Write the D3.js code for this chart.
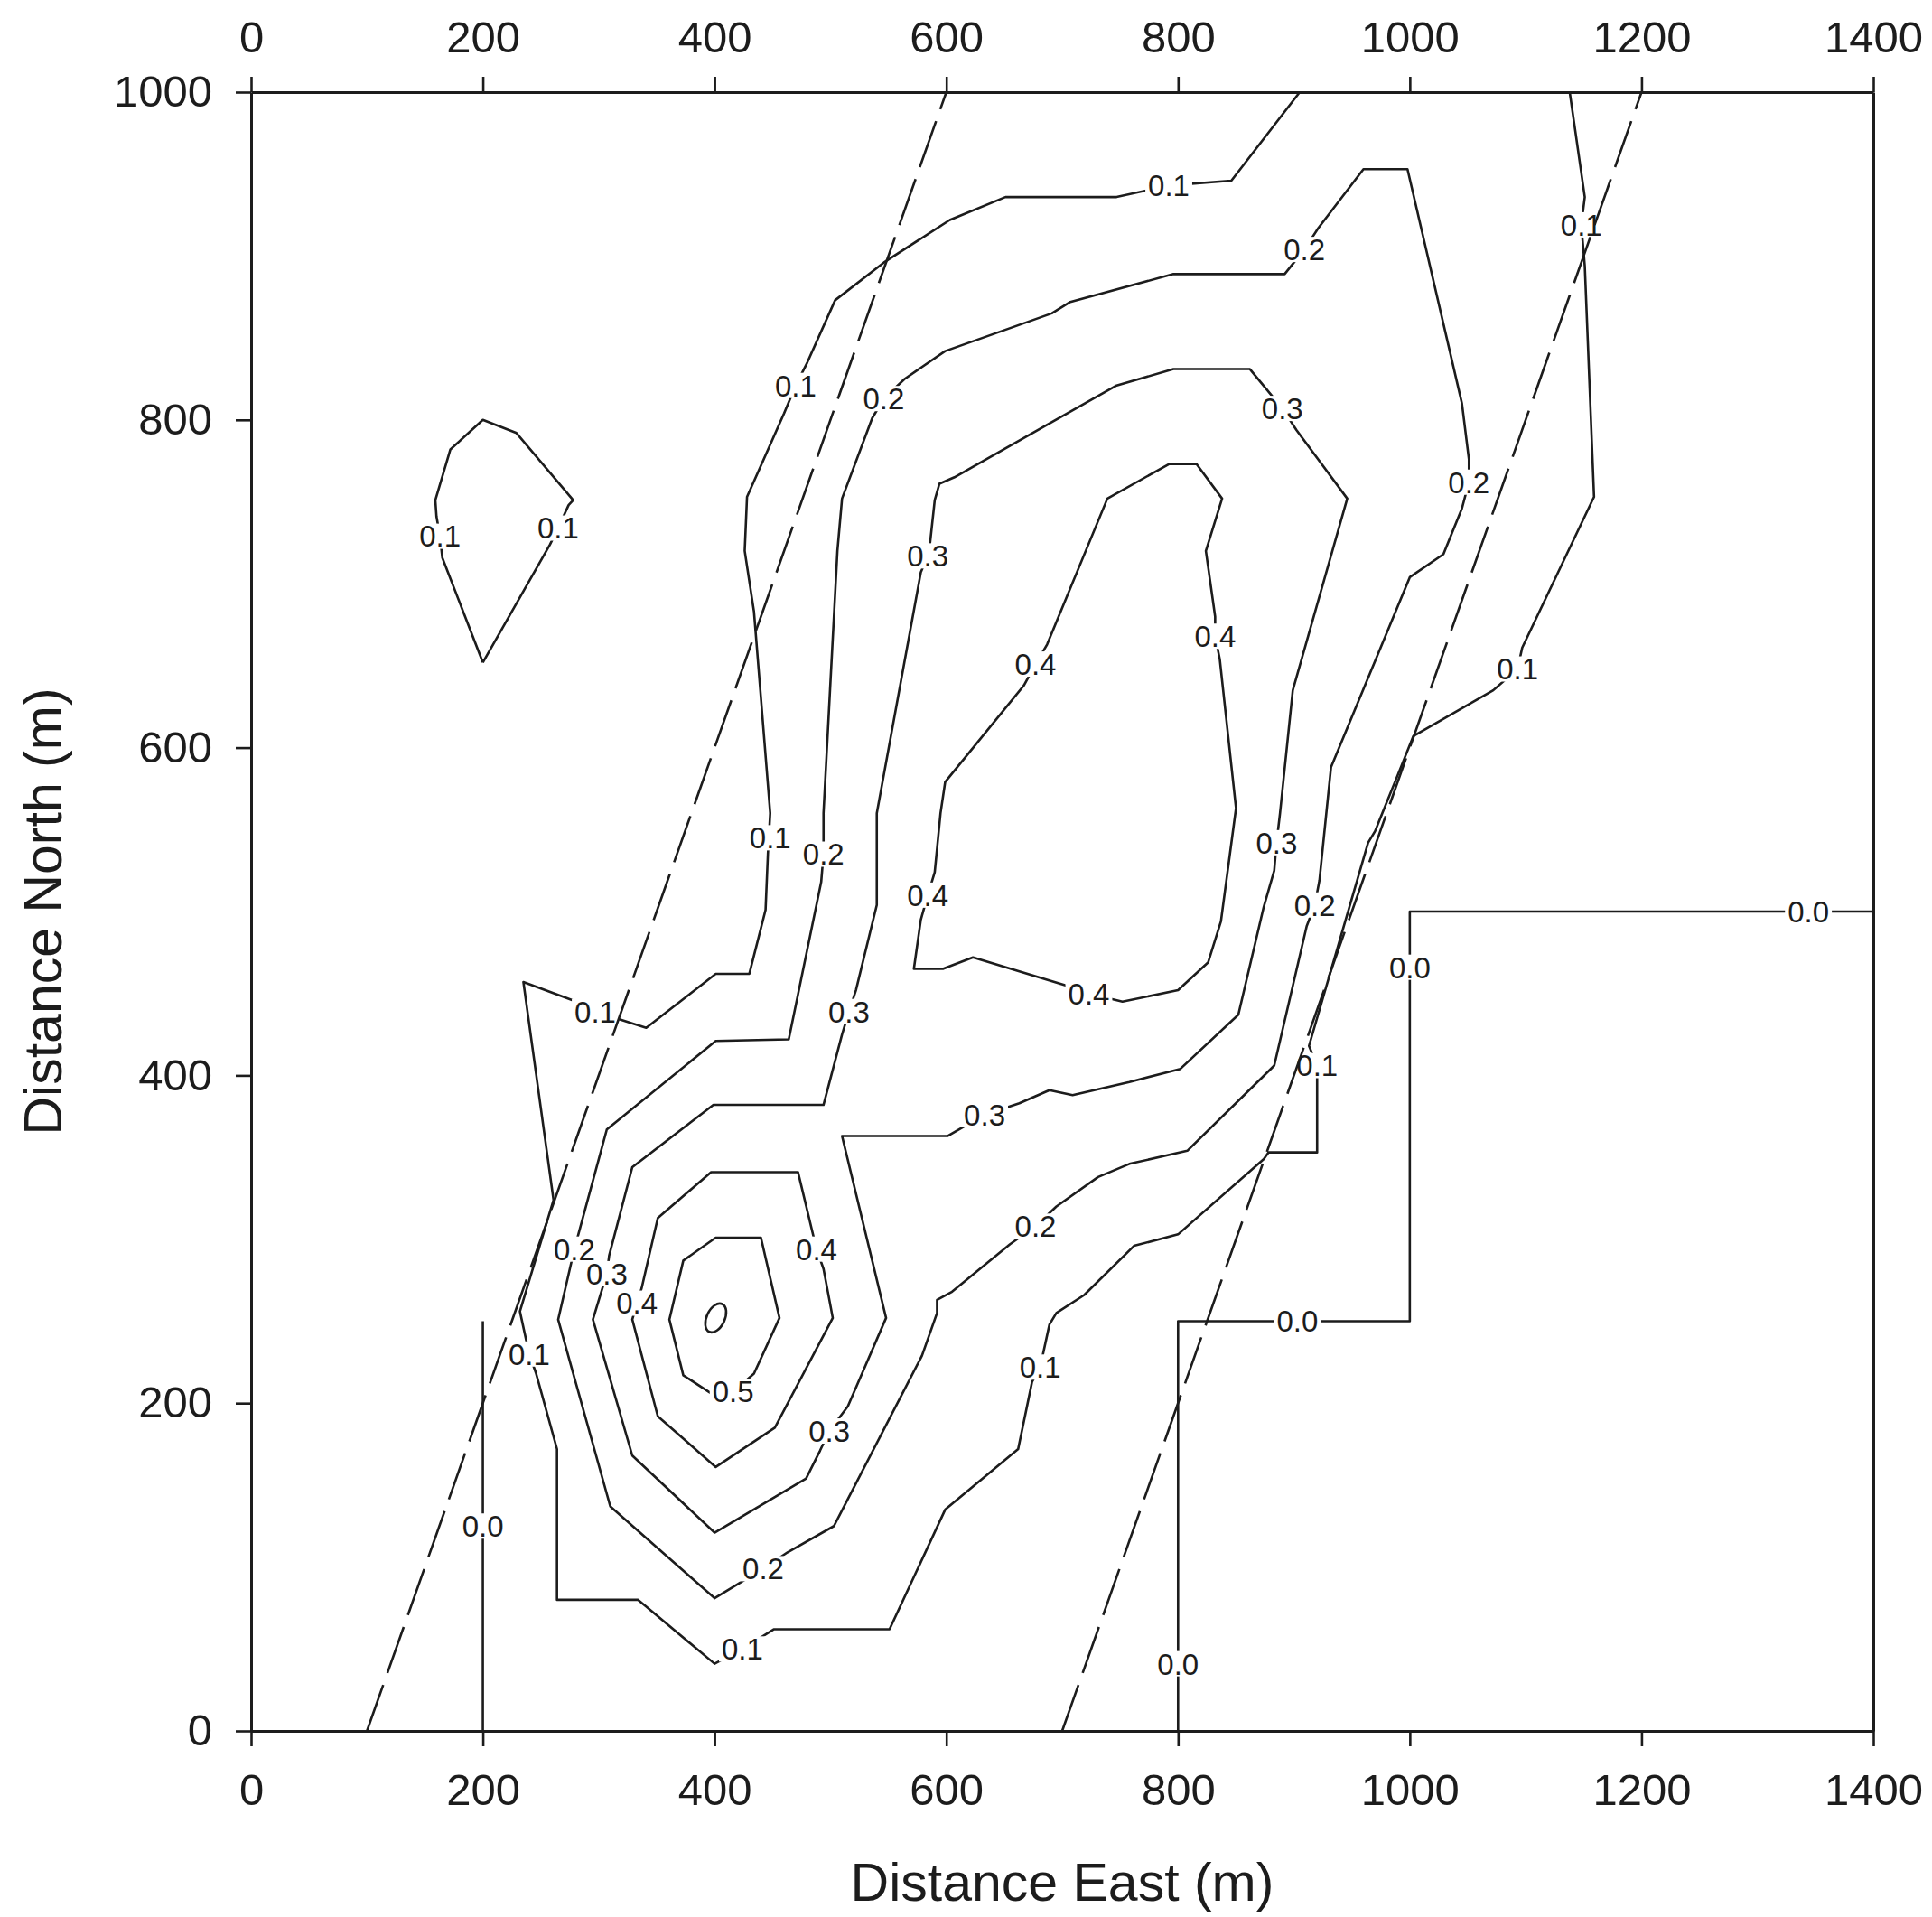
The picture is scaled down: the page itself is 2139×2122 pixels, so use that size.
<!DOCTYPE html>
<html>
<head>
<meta charset="utf-8">
<script src="https://cdn.jsdelivr.net/npm/d3@7"></script>
<style>
  body { margin: 0; background: #fff; }
  svg { display: block; font-family: 'Liberation Sans', Arial, sans-serif; }
</style>
</head>
<body>
<div id="chart"></div>
<script>
// axis ticks (m)
const xTicks = [0, 200, 400, 600, 800, 1000, 1200, 1400];
const yTicks = [0, 200, 400, 600, 800, 1000];

// contour lines as [east, north] points in metres
const contour00West = [[200, 0], [200, 250]];
const contour00East = [[800, 0], [800, 250], [1000, 250], [1000, 500], [1400, 500]];

const contour01Main = [
  [905, 1000], [846, 946], [792, 943], [747, 936], [651, 936], [603, 922], [546, 896],
  [504, 873], [480, 835], [470, 821], [460, 804], [428, 753], [426, 720], [434, 683],
  [448, 560], [446, 535], [444, 501], [430, 462], [401, 462], [341, 429], [297, 439],
  [277, 446], [235, 457], [261, 324], [232, 256], [240, 230], [246, 218], [264, 172],
  [264, 80], [334, 80], [400, 41], [424, 50], [451, 62], [551, 62], [599, 135],
  [662, 172], [674, 213], [681, 222], [689, 248], [695, 255], [719, 266], [762, 296],
  [800, 303], [874, 349], [878, 353], [920, 353], [920, 393], [920, 406], [913, 418],
  [964, 542], [970, 549], [990, 584], [1003, 607], [1072, 635], [1093, 648], [1097, 661],
  [1159, 753], [1151, 894], [1148, 919], [1151, 936], [1138, 1000]
];
const contour01West = [
  [200, 652], [165, 716], [163, 729], [160, 741], [159, 751], [172, 782], [200, 800],
  [229, 792], [278, 751], [274, 748], [265, 734], [258, 724], [200, 652]
];
const contour02 = [
  [909, 904], [921, 917], [960, 953], [998, 953], [1045, 810], [1051, 776], [1051, 762],
  [1045, 746], [1029, 718], [1000, 704], [932, 588], [922, 519], [918, 504], [911, 491],
  [883, 406], [808, 354], [758, 346], [731, 338], [695, 320], [677, 308], [655, 297],
  [605, 268], [592, 263], [592, 255], [579, 229], [511, 136], [503, 125], [463, 109],
  [442, 99], [400, 81], [310, 137], [265, 251], [279, 294], [307, 367], [401, 421],
  [464, 422], [492, 518], [494, 535], [494, 560], [506, 720], [510, 752], [536, 801],
  [546, 813], [564, 825], [599, 842], [691, 865], [707, 872], [796, 889], [892, 889],
  [909, 904]
];
const contour03 = [
  [890, 807], [902, 794], [946, 752], [899, 635], [888, 560], [885, 542], [883, 525],
  [874, 503], [852, 437], [802, 404], [758, 396], [709, 388], [689, 391], [663, 383],
  [633, 376], [601, 363], [510, 363], [548, 252], [515, 198], [499, 183], [491, 171],
  [479, 154], [400, 121], [329, 168], [295, 251], [307, 279], [309, 290], [329, 344],
  [399, 382], [494, 382], [510, 425], [516, 439], [522, 452], [540, 504], [540, 560],
  [578, 707], [584, 717], [586, 725], [590, 751], [594, 761], [607, 765], [747, 821],
  [796, 831], [862, 831], [890, 807]
];
const contour04North = [
  [677, 651], [687, 663], [739, 752], [792, 773], [816, 773], [838, 752], [824, 720],
  [832, 680], [832, 668], [836, 654], [850, 563], [837, 494], [826, 469], [800, 452],
  [752, 445], [723, 450], [703, 455], [623, 472], [597, 465], [572, 465], [578, 495],
  [584, 510], [590, 524], [595, 560], [599, 579], [667, 638], [677, 651]
];
const contour04South = [
  [488, 294], [472, 341], [397, 341], [351, 313], [337, 270], [333, 261], [329, 251],
  [351, 192], [401, 161], [452, 185], [502, 252], [494, 282], [488, 294]
];
const contour05 = [
  [416, 207], [434, 218], [456, 252], [440, 301], [401, 301], [373, 287], [361, 251],
  [373, 217], [397, 206], [416, 207]
];
const peakCentre = [401, 252];

// dashed lines
const faultWest = [[100, 0], [600, 1000]];
const faultEast = [[700, 0], [1200, 1000]];

// contour labels [east, north, text]
const contourLabels = [
  [200, 125, '0.0'], [800, 41, '0.0'], [903, 250, '0.0'], [1000, 466, '0.0'], [1344, 500, '0.0'],
  [792, 943, '0.1'], [470, 821, '0.1'], [297, 439, '0.1'], [240, 230, '0.1'], [424, 50, '0.1'],
  [681, 222, '0.1'], [920, 406, '0.1'], [1093, 648, '0.1'], [1148, 919, '0.1'], [163, 729, '0.1'],
  [265, 734, '0.1'], [448, 545, '0.1'],
  [909, 904, '0.2'], [1051, 762, '0.2'], [918, 504, '0.2'], [677, 308, '0.2'], [442, 99, '0.2'],
  [279, 294, '0.2'], [494, 535, '0.2'], [546, 813, '0.2'],
  [890, 807, '0.3'], [885, 542, '0.3'], [633, 376, '0.3'], [499, 183, '0.3'], [307, 279, '0.3'],
  [516, 439, '0.3'], [584, 717, '0.3'],
  [677, 651, '0.4'], [832, 668, '0.4'], [723, 450, '0.4'], [584, 510, '0.4'], [488, 294, '0.4'],
  [333, 261, '0.4'],
  [416, 207, '0.5']
];

const contours = [
  contour00West, contour00East, contour01Main, contour01West, contour02,
  contour03, contour04North, contour04South, contour05
];
const faults = [faultWest, faultEast];

const width = 2139;
const height = 2122;
const margin = { top: 102, right: 65, bottom: 206, left: 278 };

const svg = d3
  .select('#chart')
  .append('svg')
  .attr('width', width)
  .attr('height', height);

const x = d3.scaleLinear().domain([0, 1400]).range([margin.left, width - margin.right]);
const y = d3.scaleLinear().domain([0, 1000]).range([height - margin.bottom, margin.top]);

const ink = '#1c1c1c';

const line = d3
  .line()
  .x((d) => x(d[0]))
  .y((d) => y(d[1]));

// contour lines
svg
  .append('g')
  .selectAll('path')
  .data(contours)
  .join('path')
  .attr('d', line)
  .attr('fill', 'none')
  .attr('stroke', ink)
  .attr('stroke-width', 2.6)
  .attr('stroke-linejoin', 'round');

// peak marker
svg
  .append('ellipse')
  .attr('cx', x(peakCentre[0]))
  .attr('cy', y(peakCentre[1]))
  .attr('rx', 10)
  .attr('ry', 17)
  .attr('transform', `rotate(25, ${x(peakCentre[0])}, ${y(peakCentre[1])})`)
  .attr('fill', 'none')
  .attr('stroke', ink)
  .attr('stroke-width', 2.6);

// labels with a white gap behind
const labelG = svg
  .append('g')
  .selectAll('g')
  .data(contourLabels)
  .join('g')
  .attr('transform', (d) => `translate(${x(d[0])},${y(d[1])})`);

labelG
  .append('rect')
  .attr('fill', '#fff');

labelG
  .append('text')
  .attr('text-anchor', 'middle')
  .attr('dy', '0.36em')
  .attr('font-size', 33)
  .attr('fill', ink)
  .text((d) => d[2]);

labelG.each(function () {
  const g = d3.select(this);
  const bb = g.select('text').node().getBBox();
  g.select('rect')
    .attr('x', bb.x - 3)
    .attr('y', -14)
    .attr('width', bb.width + 6)
    .attr('height', 28);
});

// dashed lines on top
svg
  .append('g')
  .selectAll('path')
  .data(faults)
  .join('path')
  .attr('d', line)
  .attr('fill', 'none')
  .attr('stroke', ink)
  .attr('stroke-width', 2.6)
  .attr('stroke-dasharray', '54,14');

// axes
const fmt = d3.format('d');
const styleAxis = (g) => {
  g.select('.domain').attr('stroke', ink).attr('stroke-width', 3);
  g.selectAll('.tick line').attr('stroke', ink).attr('stroke-width', 2.6);
  g.selectAll('.tick text')
    .attr('fill', ink)
    .attr('font-size', 49)
    .attr('font-family', "'Liberation Sans', Arial, sans-serif");
};

svg
  .append('g')
  .attr('transform', `translate(0,${y(0)})`)
  .call(d3.axisBottom(x).tickValues(xTicks).tickFormat(fmt).tickSize(17).tickSizeOuter(0).tickPadding(30))
  .call(styleAxis);

svg
  .append('g')
  .attr('transform', `translate(0,${y(1000)})`)
  .call(d3.axisTop(x).tickValues(xTicks).tickFormat(fmt).tickSize(17).tickSizeOuter(0).tickPadding(27))
  .call(styleAxis);

svg
  .append('g')
  .attr('transform', `translate(${x(0)},0)`)
  .call(d3.axisLeft(y).tickValues(yTicks).tickFormat(fmt).tickSize(17).tickSizeOuter(0).tickPadding(26))
  .call(styleAxis);

svg
  .append('g')
  .attr('transform', `translate(${x(1400)},0)`)
  .call(d3.axisRight(y).tickValues([]).tickSizeOuter(0))
  .call(styleAxis);

// axis titles
svg
  .append('text')
  .attr('x', (x(0) + x(1400)) / 2)
  .attr('y', 2104)
  .attr('text-anchor', 'middle')
  .attr('font-size', 59)
  .attr('fill', ink)
  .text('Distance East (m)');

svg
  .append('text')
  .attr('transform', `translate(68,${(y(0) + y(1000)) / 2}) rotate(-90)`)
  .attr('text-anchor', 'middle')
  .attr('font-size', 59)
  .attr('fill', ink)
  .text('Distance North (m)');
</script>
</body>
</html>
